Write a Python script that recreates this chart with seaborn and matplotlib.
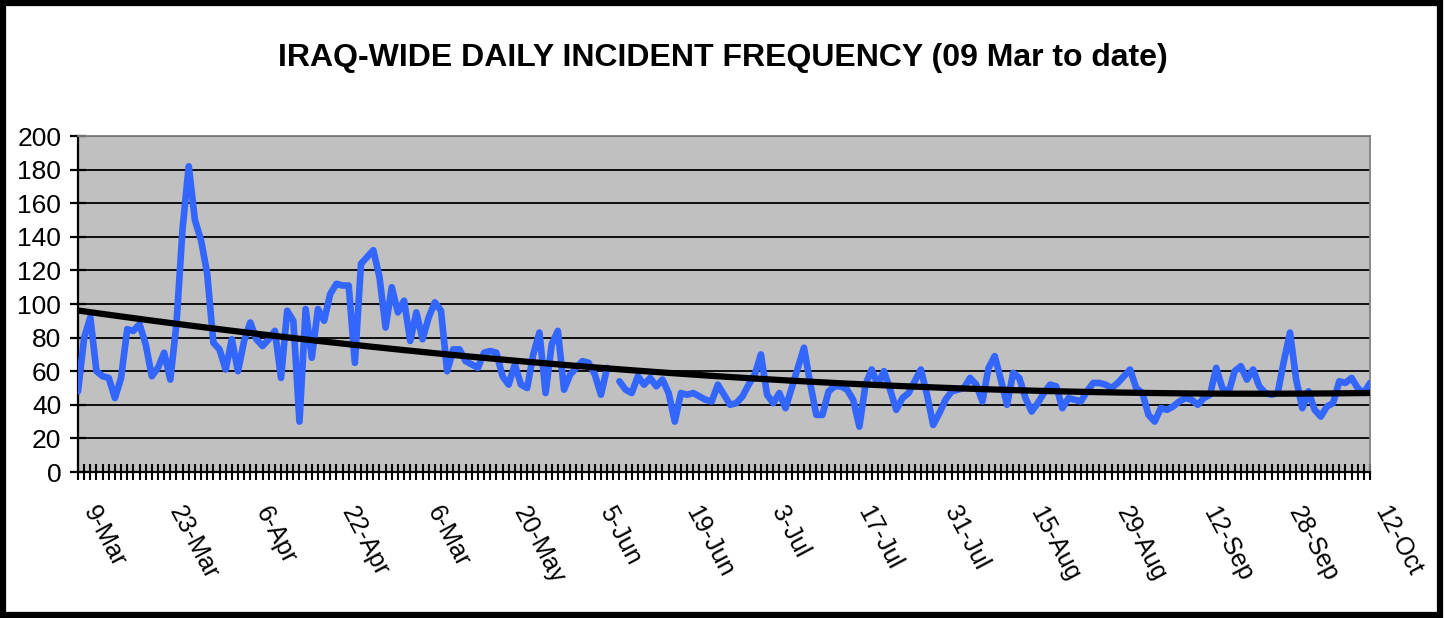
import numpy as np
import pandas as pd
import matplotlib
matplotlib.use("Agg")
import matplotlib.pyplot as plt
from matplotlib.patches import Rectangle
from matplotlib.ticker import MultipleLocator
import seaborn as sns

# -- daily incident counts (one value per day, 9 Mar -> 12 Oct) --
incidents = [
    48, 80, 92, 60, 57, 56, 44, 56, 85, 84, 88, 76, 57, 62, 71, 55, 88, 145, 182, 150,
    138, 118, 77, 73, 61, 79, 60, 78, 89, 79, 75, 79, 84, 56, 96, 90, 30, 97, 68, 97,
    90, 106, 112, 111, 111, 65, 124, 128, 132, 116, 86, 110, 95, 102, 78, 95, 79, 92, 101, 96,
    60, 73, 73, 66, 64, 62, 71, 72, 71, 57, 52, 64, 52, 50, 70, 83, 47, 76, 84, 49,
    58, 62, 66, 65, 58, 46, 62, np.nan, 54, 49, 47, 57, 52, 56, 51, 55, 47, 30, 47, 46,
    47, 45, 43, 42, 52, 46, 40, 41, 45, 52, 58, 70, 46, 41, 47, 38, 50, 62, 74, 53,
    34, 34, 48, 51, 51, 49, 43, 27, 52, 61, 52, 60, 49, 37, 44, 47, 54, 61, 46, 28,
    35, 43, 48, 49, 50, 56, 52, 42, 62, 69, 55, 40, 59, 56, 44, 36, 41, 47, 52, 51,
    38, 44, 43, 42, 48, 53, 53, 52, 50, 53, 57, 61, 50, 47, 34, 30, 38, 37, 39, 42,
    44, 43, 40, 44, 46, 62, 50, 47, 60, 63, 55, 61, 51, 47, 46, 47, 66, 83, 55, 38,
    48, 37, 33, 39, 41, 54, 53, 56, 50, 47, 53,
]
tick_labels = ["9-Mar", "23-Mar", "6-Apr", "22-Apr", "6-Mar", "20-May", "5-Jun", "19-Jun",
               "3-Jul", "17-Jul", "31-Jul", "15-Aug", "29-Aug", "12-Sep", "28-Sep", "12-Oct"]
label_every = 14

df = pd.DataFrame({"day": np.arange(len(incidents)), "incidents": incidents})
# a missing day breaks the line in two
df["segment"] = df["incidents"].isna().cumsum()

fig = plt.figure(figsize=(14.45, 6.18), dpi=100)
ax = fig.add_axes([78 / 1445, 1 - 472 / 618, (1370 - 78) / 1445, (472 - 136) / 618])
ax.set_facecolor("#C0C0C0")

sns.lineplot(data=df.dropna(), x="day", y="incidents", units="segment", estimator=None,
             color="#3366FF", lw=4.8, solid_joinstyle="round", solid_capstyle="round",
             ax=ax, zorder=3)
sns.regplot(data=df, x="day", y="incidents", order=2, scatter=False, ci=None,
            line_kws=dict(color="black", lw=4.5, zorder=4), ax=ax)

ax.set_xlim(0, len(incidents) - 1)
ax.set_ylim(0, 200)
ax.yaxis.set_major_locator(MultipleLocator(20))
ax.grid(axis="y", color="black", lw=1.3)
ax.set_axisbelow(True)

ax.set_xticks(np.arange(0, len(incidents), label_every))
ax.set_xticklabels(tick_labels, rotation=-62, ha="left", va="bottom", rotation_mode="anchor")
ax.xaxis.set_minor_locator(MultipleLocator(1))
ax.tick_params(axis="x", which="both", direction="inout", length=12, width=1.5, pad=24,
               labelsize=18)
ax.tick_params(axis="y", direction="inout", length=12, width=1.6, pad=6, labelsize=19)
ax.set_xlabel("")
ax.set_ylabel("")

for side in ["left", "bottom"]:
    ax.spines[side].set_color("black")
    ax.spines[side].set_linewidth(1.6)
for side in ["top", "right"]:
    ax.spines[side].set_color("#808080")
    ax.spines[side].set_linewidth(1.3)

fig.text(0.5, 1 - 58 / 618, "IRAQ-WIDE DAILY INCIDENT FREQUENCY (09 Mar to date)",
         ha="center", va="center", fontsize=23, fontweight="bold",
         family=["Liberation Sans", "DejaVu Sans"])
for t in ax.get_xticklabels() + ax.get_yticklabels():
    t.set_family(["Liberation Sans", "DejaVu Sans"])

fig.patches.append(Rectangle((3.5 / 1445, 3 / 618), (1440 - 3.5) / 1445, (615 - 3) / 618,
                             transform=fig.transFigure, fill=False, edgecolor="black",
                             lw=4.5))

fig.savefig("out.png", dpi=100)
